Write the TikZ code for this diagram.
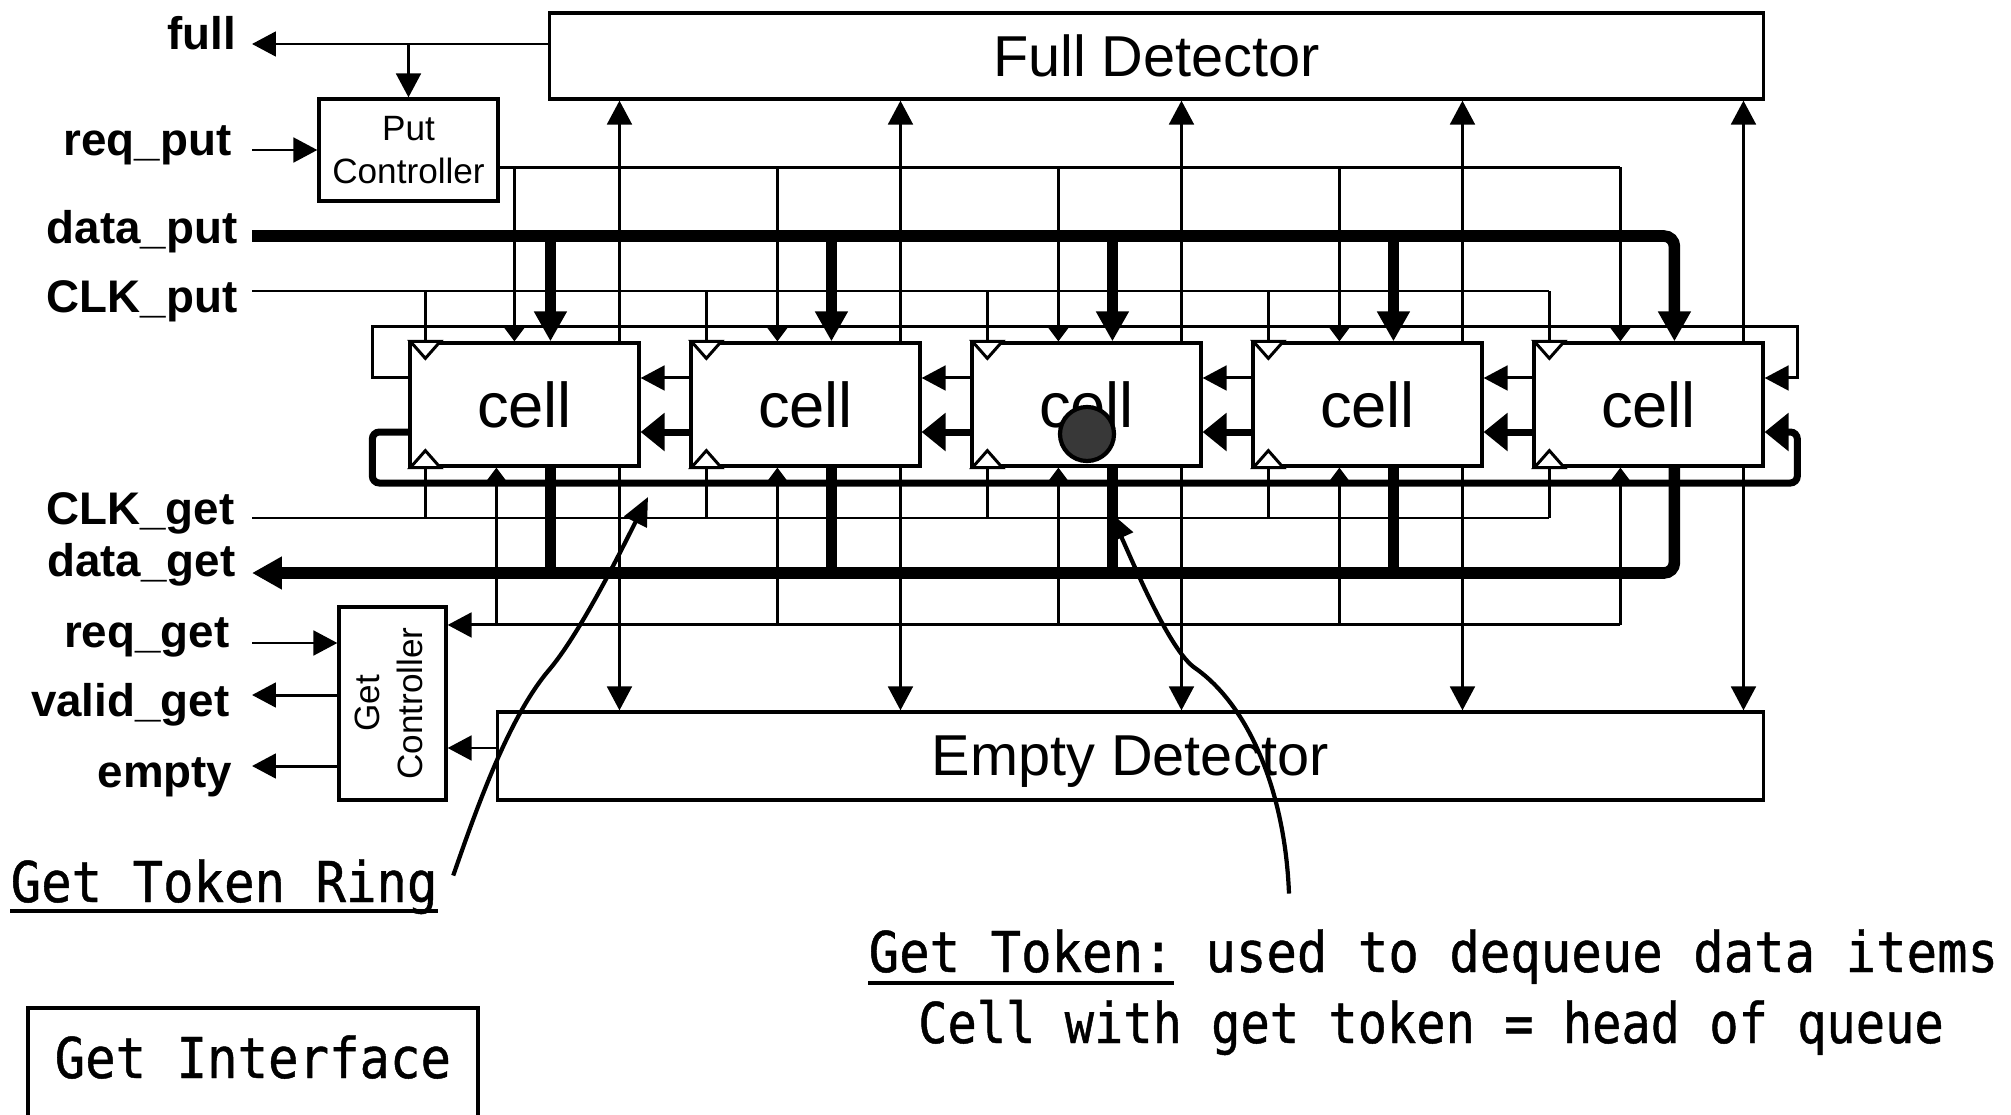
\documentclass[tikz,border=0pt]{standalone}
\usepackage{fontspec}
\setmainfont{Liberation Sans}
\newfontfamily\notefont[FakeStretch=0.9, FakeBold=0.8]{DejaVu Sans Mono}
\newfontfamily\headfont[FakeStretch=0.865, FakeBold=0.8]{DejaVu Sans Mono}
\usetikzlibrary{arrows.meta}

\begin{document}
\begin{tikzpicture}[x=0.01cm, y=-0.01cm,
    wire/.style={line width=0.85pt},
    ring/.style={line width=2pt},
    bus/.style={line width=3.3pt},
    tipthin/.style={-{Triangle[length=6.8pt, width=7pt]}},
    tipsmall/.style={-{Triangle[length=4.5pt, width=6.5pt]}},
    tipring/.style={-{Triangle[length=6.8pt, width=10.5pt]}},
    tipbus/.style={-{Triangle[length=8.5pt, width=8.8pt]}},
    tipnote/.style={-{Triangle[length=8pt, width=7pt]}},
    blk/.style={draw, line width=0.9pt, inner sep=0pt},
    sig/.style={anchor=base east, inner sep=0pt, font=\fontsize{13}{15}\selectfont\bfseries},
    note/.style={inner sep=0pt, font=\fontsize{16}{19}\selectfont\notefont},
    uline/.style={line width=1.3pt},
    clk/.style={wire, fill=white}]
    \useasboundingbox (0,0) rectangle (2011,1115);

    \node[blk, minimum width=12.13cm, minimum height=0.86cm, text depth=0pt, font=\fontsize{16.4}{20}\selectfont] at (1156.5, 56) (fulldet) {Full Detector};
    \node[blk, minimum width=12.65cm, minimum height=0.88cm, text depth=0pt, font=\fontsize{16.4}{20}\selectfont] at (1130.5, 756) (emptydet) {Empty Detector};
    \node[blk, minimum width=1.79cm, minimum height=1.02cm, align=center, font=\fontsize{10}{12}\selectfont] at (408.5, 150) (putc) {Put\\Controller};
    \node[blk, minimum width=1.07cm, minimum height=1.93cm, font=\fontsize{10}{12}\selectfont] at (392.5, 703.5) (getc) {\rotatebox{90}{\begin{tabular}{@{}c@{}}Get\\Controller\end{tabular}}};
    \foreach \i in {0,...,4}
        \node[blk, minimum width=2.29cm, minimum height=1.23cm, font=\fontsize{18}{22}\selectfont] at (524.5+281*\i, 404.5) (c\i) {cell};

    \node[sig] at (237, 49) (full) {full};
    \node[sig] at (232, 155) (reqput) {req\_put};
    \node[sig] at (238, 243) (dataput) {data\_put};
    \node[sig] at (238, 312) (clkput) {CLK\_put};
    \node[sig] at (235, 524) (clkget) {CLK\_get};
    \node[sig] at (236, 576) (dataget) {data\_get};
    \node[sig] at (230, 647) (reqget) {req\_get};
    \node[sig] at (230, 716) (validget) {valid\_get};
    \node[sig] at (233, 787) (empty) {empty};

    \coordinate (fullend) at (252, 44);
    \coordinate (reqputend) at (252, 150);
    \coordinate (dputend) at (252, 236);
    \coordinate (clkputend) at (252, 291);
    \coordinate (clkgetend) at (252, 518);
    \coordinate (dgetend) at (252, 573);
    \coordinate (reqgetend) at (252, 643);
    \coordinate (validend) at (252, 695);
    \coordinate (emptyend) at (252, 766);
    \coordinate (putline) at ([yshift=-0.17cm]putc.east);
    \coordinate (getline) at ([yshift=0.785cm]getc.east);

    \draw[wire, tipthin] (fulldet.west |- fullend) -- (fullend);
    \draw[wire, tipthin] (putc.north |- fullend) -- (putc.north);
    \draw[wire, tipthin] (reqputend) -- (putc.west |- reqputend);
    \draw[wire] (putline) -- ([xshift=0.88cm]c4.north west |- putline);
    \draw[wire] (clkputend) -- ([xshift=0.17cm]c4.north west |- clkputend);
    \draw[bus, tipbus, rounded corners=3pt] (dputend) -| ([xshift=1.42cm]c4.north west);
    \draw[wire] (clkgetend) -- ([xshift=0.17cm]c4.south west |- clkgetend);
    \draw[bus, tipbus, rounded corners=3pt] ([xshift=1.42cm]c4.south west) |- (dgetend);
    \draw[wire, tipthin] ([xshift=0.88cm]c4.south west |- getline) -- (getline);
    \draw[wire, tipthin] (reqgetend) -- (getc.west |- reqgetend);
    \draw[wire, tipthin] (getc.west |- validend) -- (validend);
    \draw[wire, tipthin] (getc.west |- emptyend) -- (emptyend);
    \draw[wire, tipthin] ([yshift=0.08cm]emptydet.west) -- ([yshift=0.08cm]emptydet.west -| getc.east);

    \foreach \i/\px in {0/1.06cm, 1/0.88cm, 2/0.88cm, 3/0.88cm, 4/0.88cm} {
        \draw[wire] ([xshift=0.17cm]c\i.north west |- clkputend) -- ([xshift=0.17cm]c\i.north west);
        \draw[wire] ([xshift=0.17cm]c\i.south west |- clkgetend) -- ([xshift=0.17cm]c\i.south west);
        \draw[wire, tipsmall] ([xshift=\px]c\i.north west |- putline) -- ([xshift=\px]c\i.north west);
        \draw[wire, tipsmall] ([xshift=0.88cm]c\i.south west |- getline) -- ([xshift=0.88cm]c\i.south west);
        \draw[wire, tipthin] ([xshift=2.11cm]c\i.north west) -- ([xshift=2.11cm]c\i.north west |- fulldet.south);
        \draw[wire, tipthin] ([xshift=2.11cm]c\i.south west) -- ([xshift=2.11cm]c\i.south west |- emptydet.north);
        \draw[clk] ([xshift=0.02cm]c\i.north west) -- ++(30,0) -- ++(-15,17) -- cycle;
        \draw[clk] ([xshift=0.02cm]c\i.south west) -- ++(30,0) -- ++(-15,-17) -- cycle;
    }
    \foreach \i in {0,...,3} {
        \draw[bus, tipbus] ([xshift=1.42cm]c\i.north west |- dputend) -- ([xshift=1.42cm]c\i.north west);
        \draw[bus] ([xshift=1.42cm]c\i.south west) -- ([xshift=1.42cm]c\i.south west |- dgetend);
    }
    \foreach \i/\j in {0/1, 1/2, 2/3, 3/4} {
        \draw[wire, tipthin] ([yshift=0.265cm]c\j.west) -- ([yshift=0.265cm]c\i.east);
        \draw[ring, tipring] ([yshift=-0.275cm]c\j.west) -- ([yshift=-0.275cm]c\i.east);
    }
    \draw[wire, tipthin] ([yshift=0.265cm]c0.west) -- ++(-36,0) -- ++(0,-51) -- ++(1425,0) -- ++(0,51) -- ([yshift=0.265cm]c4.east);
    \draw[ring, tipring, rounded corners=2pt] ([yshift=-0.275cm]c0.west) -- ++(-36,0) -- ++(0,51) -- ++(1425,0) -- ++(0,-51) -- ([yshift=-0.275cm]c4.east);

    \node[circle, draw, line width=1.2pt, fill=black!78, minimum size=0.54cm, inner sep=0pt] at (1087, 434) (token) {};

    \node[note, anchor=base west] at (10, 902) (ringnote) {Get Token Ring};
    \draw[uline] ([yshift=-2.6pt]ringnote.base west) -- ([yshift=-2.6pt]ringnote.base east);
    \node[note, anchor=base west] at (54, 1078) (iface) {Get Interface};
    \draw[line width=1.3pt] (iface.base) ++(-225,45) |- ++(450,-115) -- ++(0,115);
    \node[note, anchor=base west] at (868, 972) (tokhead) {Get Token:};
    \draw[uline] ([yshift=-3.1pt]tokhead.base west) -- ([yshift=-3.1pt]tokhead.base east);
    \node[note, anchor=base west] at (tokhead.base east) (tokrest) {~used to dequeue data items};
    \node[note, anchor=base, font=\fontsize{16}{19}\selectfont\headfont] at (1431, 1043) (headnote) {Cell with get token = head of queue};

    \coordinate (ringpt) at (648, 497);
    \coordinate (tokpt) at (1110, 512);
    \draw[line width=1.2pt, tipnote] ([shift={(15,17)}]ringnote.north east) .. controls (479,801) and (510,716) .. (549,670) .. controls (578,636) and (617,559) .. (ringpt);
    \draw[line width=1.2pt, tipnote] ([shift={(421,-35)}]tokhead.north west) .. controls (1285,790) and (1248,705) .. (1195,668) .. controls (1170,651) and (1135,567) .. (tokpt);
\end{tikzpicture}
\end{document}
